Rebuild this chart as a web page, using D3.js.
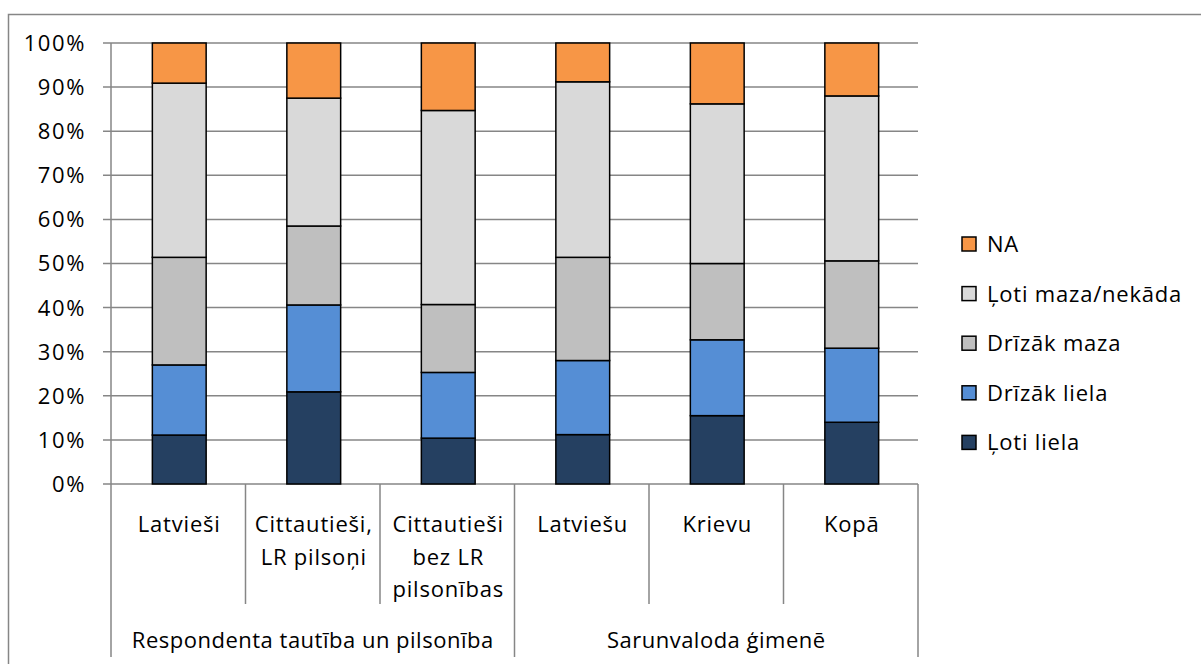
<!DOCTYPE html>
<html><head><meta charset="utf-8">
<script src="https://cdn.jsdelivr.net/npm/d3@7"></script>
<style>body{margin:0;background:#fff}svg{display:block}text{font-family:"Open Sans",sans-serif;fill:#000}</style>
</head><body><svg id="c" width="1201" height="664"></svg>
<script>
const categories = ["Latvieši", "Cittautieši, LR pilsoņi", "Cittautieši bez LR pilsonības", "Latviešu", "Krievu", "Kopā"];
const categoryLines = [["Latvieši"], ["Cittautieši,", "LR pilsoņi"], ["Cittautieši", "bez LR", "pilsonības"], ["Latviešu"], ["Krievu"], ["Kopā"]];
const groups = ["Respondenta tautība un pilsonība", "Sarunvaloda ģimenē"];
const groupSizes = [3, 3];
const seriesNames = ["Ļoti liela", "Drīzāk liela", "Drīzāk maza", "Ļoti maza/nekāda", "NA"];
const lotiLiela   = [11.1, 20.9, 10.4, 11.2, 15.5, 14.0];
const drizakLiela = [15.9, 19.7, 14.9, 16.8, 17.2, 16.8];
const drizakMaza  = [24.4, 17.9, 15.4, 23.4, 17.3, 19.8];
const lotiMaza    = [39.5, 29.0, 44.0, 39.8, 36.2, 37.4];
const na          = [9.1, 12.5, 15.3, 8.8, 13.8, 12.0];
const colors = ["#254061", "#558ED5", "#BFBFBF", "#D9D9D9", "#F79646"];
const yTicks = [0,10,20,30,40,50,60,70,80,90,100];

const series = [lotiLiela, drizakLiela, drizakMaza, lotiMaza, na];
const data = categories.map((c, i) => {
  const o = {cat: c};
  seriesNames.forEach((s, j) => o[s] = series[j][i]);
  return o;
});
const stack = d3.stack().keys(seriesNames).offset(d3.stackOffsetExpand);
const stacked = stack(data);

const svg = d3.select("#c");
const L = 111, R = 918, T = 43, B = 484;
const FS = 22, LS = 0.8;
const x = d3.scaleBand().domain(categories).range([L, R]).paddingInner(0).paddingOuter(0);
const y = d3.scaleLinear().domain([0, 1]).range([B, T]);
const grid = "#868686";

// outer border
svg.append("path").attr("d", `M8.5,670 V14.5 H1210`).attr("fill","none").attr("stroke","#868686").attr("stroke-width",1.5);

// gridlines
svg.append("g").selectAll("line").data(yTicks).join("line")
  .attr("x1", L - 8).attr("x2", R).attr("y1", d => y(d/100)).attr("y2", d => y(d/100))
  .attr("stroke", grid).attr("stroke-width", 1.5);

// y axis labels
svg.append("g").selectAll("text").data(yTicks).join("text")
  .attr("x", 86).attr("y", d => y(d/100)).attr("dy", "0.36em")
  .attr("text-anchor","end").attr("font-size", FS).attr("letter-spacing", 1.6).text(d => d + "%");

// y axis line
svg.append("line").attr("x1", L).attr("x2", L).attr("y1", T).attr("y2", 657).attr("stroke", grid).attr("stroke-width", 1.5);

// category separators
const bounds = d3.range(1, categories.length + 1).map(i => L + i * x.step());
let cum = 0;
const groupEnds = groupSizes.map(s => (cum += s));
bounds.forEach((bx, i) => {
  const isGroup = groupEnds.includes(i + 1);
  svg.append("line").attr("x1", bx).attr("x2", bx).attr("y1", B).attr("y2", isGroup ? 657 : 604)
    .attr("stroke", grid).attr("stroke-width", 1.5);
});

// bars
const bw = x.bandwidth() * 0.4;
svg.append("g").selectAll("g").data(stacked).join("g")
  .attr("fill", (d, i) => colors[i])
  .selectAll("rect").data(d => d).join("rect")
  .attr("x", d => x(d.data.cat) + (x.bandwidth() - bw) / 2 + 1)
  .attr("width", bw)
  .attr("y", d => y(d[1]))
  .attr("height", d => y(d[0]) - y(d[1]))
  .attr("stroke", "#000").attr("stroke-width", 1.5);

// category labels
categories.forEach((c, i) => {
  const t = svg.append("text").attr("text-anchor","middle").attr("font-size", FS).attr("letter-spacing", LS);
  categoryLines[i].forEach((ln, k) => {
    t.append("tspan").attr("x", x(c) + x.bandwidth()/2 + 1).attr("y", 532 + k * 32.5).text(ln);
  });
});

// group labels
let start = 0;
groups.forEach((g, i) => {
  const x0 = L + start * x.step(), x1 = L + (start + groupSizes[i]) * x.step();
  svg.append("text").attr("x", (x0 + x1)/2).attr("y", 648).attr("text-anchor","middle")
    .attr("font-size", FS).attr("letter-spacing", 0.5).text(g);
  start += groupSizes[i];
});

// legend (reverse order)
const legendItems = seriesNames.map((s, i) => ({s, c: colors[i]})).reverse();
const lg = svg.append("g").selectAll("g").data(legendItems).join("g")
  .attr("transform", (d, i) => `translate(962,${244 + i * 49.6})`);
lg.append("rect").attr("x", 0).attr("y", -7).attr("width", 14).attr("height", 14)
  .attr("fill", d => d.c).attr("stroke", "#000").attr("stroke-width", 1.5);
lg.append("text").attr("x", 25).attr("y", 0).attr("dy", "0.36em").attr("font-size", FS).attr("letter-spacing", 0.8).text(d => d.s);
</script></body></html>
